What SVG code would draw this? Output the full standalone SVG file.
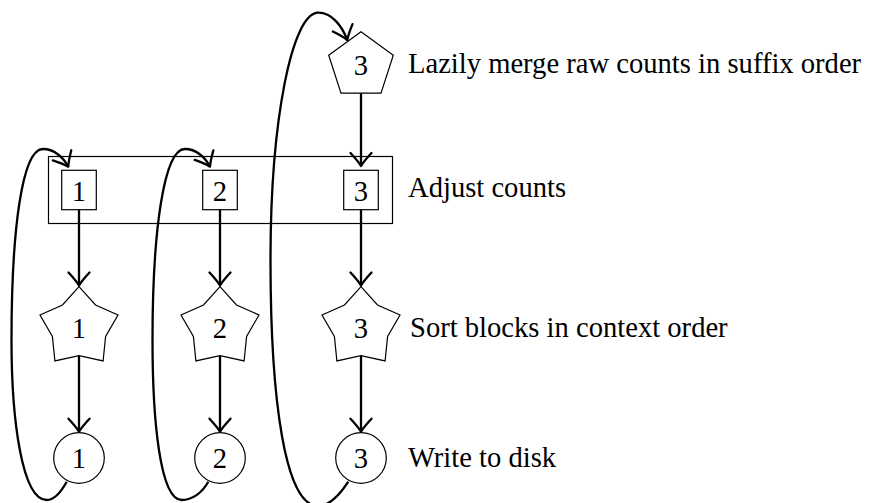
<svg xmlns="http://www.w3.org/2000/svg" width="870" height="503" viewBox="0 0 870 503">
<style>
.shape{fill:#fff;stroke:#000;stroke-width:1.2}
.box{fill:none;stroke:#000;stroke-width:1.2}
text{font-family:'Liberation Serif','Times New Roman',Times,serif;font-size:28.6px;fill:#000}
.num{text-anchor:middle}
.conn{fill:none;stroke:#000;stroke-width:2.3;marker-end:url(#arr)}
</style>
<defs>
<marker id="arr" markerUnits="userSpaceOnUse" viewBox="-16 -14 20 28" markerWidth="20" markerHeight="28" refX="0" refY="0" orient="auto" overflow="visible">
<path d="M -13,-10.5 Q -5,-3 0,0 Q -5,3 -13,10.5" fill="none" stroke="#000" stroke-width="2.3" stroke-linecap="round" stroke-linejoin="round"/>
</marker>
<polygon id="star" points="0,-41 16.5,-22.7 39,-12.7 26.6,8.7 24.1,33.2 0,28 -24.1,33.2 -26.6,8.7 -39,-12.7 -16.5,-22.7"/>
<polygon id="pent" points="0,-34 32.3,-10.5 20,27.5 -20,27.5 -32.3,-10.5"/>
</defs>
<rect id="group-adjust" class="box" x="48.5" y="156.5" width="344" height="67"/>
<g id="connectors">
<path class="conn" d="M79,209.7 V285.5"/>
<path class="conn" d="M220,209.7 V285.5"/>
<path class="conn" d="M361,209.7 V285.5"/>
<path class="conn" d="M79,356 V431.7"/>
<path class="conn" d="M220,356 V431.7"/>
<path class="conn" d="M361,356 V431.7"/>
<path class="conn" d="M361,93.3 V166"/>
<path class="conn" d="M66.7,481.7 C61,492 54,500 46.7,500 C22,500 11.5,420 11.5,340 C11.5,230 22,149 43,149 C54,149 63,157 68.3,166.7"/>
<path class="conn" d="M208.3,481.7 C202,493 192,500 181.7,500 C160,500 152.5,420 152.5,340 C152.5,230 164,149 185,149 C196,149 205,157 210,166.7"/>
<path class="conn" d="M348.3,481.7 C341,493 330,506 318,506 C285,506 270.5,400 270.5,260 C270.5,120 292,12.7 318.3,12.7 C332,12.7 342,26 347.3,40"/>
</g>
<g id="merge3"><use href="#pent" class="shape" x="361" y="65.7"/><text class="num" x="361" y="75" font-family="Liberation Serif, serif">3</text></g>
<g id="adjust1"><rect class="shape" x="61.7" y="170.3" width="34.6" height="39.4"/><text class="num" x="79" y="200.5" font-family="Liberation Serif, serif">1</text></g>
<g id="adjust2"><rect class="shape" x="202.7" y="170.3" width="34.6" height="39.4"/><text class="num" x="220" y="200.5" font-family="Liberation Serif, serif">2</text></g>
<g id="adjust3"><rect class="shape" x="343.7" y="170.3" width="34.6" height="39.4"/><text class="num" x="361" y="200.5" font-family="Liberation Serif, serif">3</text></g>
<g id="sort1"><use href="#star" class="shape" x="79" y="327.7"/><text class="num" x="79" y="338" font-family="Liberation Serif, serif">1</text></g>
<g id="sort2"><use href="#star" class="shape" x="220" y="327.7"/><text class="num" x="220" y="338" font-family="Liberation Serif, serif">2</text></g>
<g id="sort3"><use href="#star" class="shape" x="361" y="327.7"/><text class="num" x="361" y="338" font-family="Liberation Serif, serif">3</text></g>
<g id="write1"><circle class="shape" cx="79" cy="458" r="25.3"/><text class="num" x="79" y="468" font-family="Liberation Serif, serif">1</text></g>
<g id="write2"><circle class="shape" cx="220" cy="458" r="25.3"/><text class="num" x="220" y="468" font-family="Liberation Serif, serif">2</text></g>
<g id="write3"><circle class="shape" cx="361" cy="458" r="25.3"/><text class="num" x="361" y="468" font-family="Liberation Serif, serif">3</text></g>
<g id="labels">
<text x="408" y="73.3">Lazily merge raw counts in suffix order</text>
<text x="408" y="196.7">Adjust counts</text>
<text x="410" y="337.3">Sort blocks in context order</text>
<text x="408" y="466.7">Write to disk</text>
</g>
</svg>
